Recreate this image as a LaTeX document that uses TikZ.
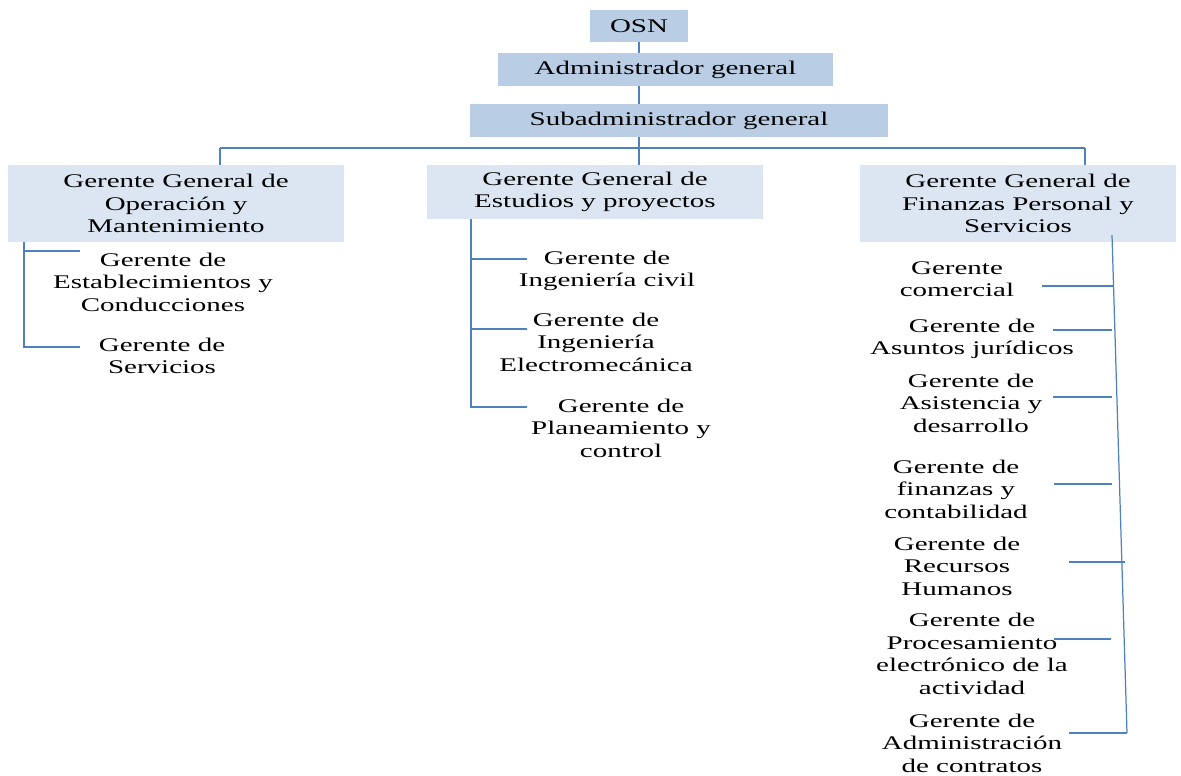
\documentclass[tikz,border=0pt]{standalone}
\usepackage{fontspec}
\setmainfont[FakeStretch=1.5]{Liberation Serif}
\usetikzlibrary{positioning}
\definecolor{linkblue}{HTML}{4F81BD}
\definecolor{topfill}{HTML}{B9CDE5}
\definecolor{genfill}{HTML}{DCE6F2}
\tikzset{%
  topbox/.style={
    fill=topfill,
    inner sep=0pt,
    align=center
  },
  genbox/.style={
    fill=genfill,
    inner sep=0pt,
    minimum width=6.72cm,
    align=center
  },
  manager/.style={inner sep=0pt, align=center},
  link/.style={draw=linkblue, line width=0.7pt},
}

\begin{document}
\begin{tikzpicture}[x=0.02cm, y=-0.02cm, font=\fontsize{11}{12.8}\selectfont]

\useasboundingbox (0,0) rectangle (1181,775);

% top of the chart
\node [topbox, minimum width=1.96cm, minimum height=0.64cm] (osn) at (639,26) {OSN};
\node [topbox, minimum width=6.7cm, minimum height=0.66cm] (admin) at (665.5,69.5) {Administrador general};
\node [topbox, minimum width=8.36cm, minimum height=0.66cm] (subadmin) at (679,120.5) {Subadministrador general};

% general managers
\node [genbox, minimum height=1.54cm] (gg1) at (176,203.5)
  {Gerente General de\\Operación y\\Mantenimiento};
\node [genbox, minimum height=1.08cm] (gg2) at (595,192)
  {Gerente General de\\Estudios y proyectos};
\node [genbox, minimum width=6.32cm, minimum height=1.54cm] (gg3) at (1018,203.5)
  {Gerente General de\\Finanzas Personal y\\Servicios};

%%%%%%%%%%%%%%%%%%%%%%%%%%%%%%%%%%%%%%%%%%%%%%%%%%%%%%%%%%%%%%%%%%%%%%%%%%%%%
% managers

\foreach \n/\x/\y/\t in {1/163/282/{Gerente de\\Establecimientos y\\Conducciones},
                         2/162/356/{Gerente de\\Servicios}}
  \node [manager] (op-\n) at (\x,\y) {\t};

\foreach \n/\x/\y/\t in {1/607/271/{Gerente de\\Ingeniería civil},
                         2/596/342/{Gerente de\\Ingeniería\\Electromecánica},
                         3/621/428/{Gerente de\\Planeamiento y\\control}}
  \node [manager] (est-\n) at (\x,\y) {\t};

\foreach \n/\x/\y/\t in {1/957/279/{Gerente\\comercial},
                         2/972/339/{Gerente de\\Asuntos jurídicos},
                         3/971/403/{Gerente de\\Asistencia y\\desarrollo},
                         4/956/489/{Gerente de\\finanzas y\\contabilidad},
                         5/957/566/{Gerente de\\Recursos\\Humanos},
                         6/972/654/{Gerente de\\Procesamiento\\electrónico de la\\actividad},
                         7/972/743/{Gerente de\\Administración\\de contratos}}
  \node [manager] (fin-\n) at (\x,\y) {\t};

%%%%%%%%%%%%%%%%%%%%%%%%%%%%%%%%%%%%%%%%%%%%%%%%%%%%%%%%%%%%%%%%%%%%%%%%%%%%%
% connections

\coordinate (bus-l) at (220,148);
\coordinate (bus-r) at (1085,148);

\draw [link] (osn.south) -- (osn.south |- admin.north);
\draw [link] (osn.south |- admin.south) -- (osn.south |- subadmin.north);
\draw [link] (osn.south |- subadmin.south) -- (osn.south |- gg2.north);
\draw [link] (bus-l) -- (bus-r);
\draw [link] (bus-l) -- (bus-l |- gg1.north);
\draw [link] (bus-r) -- (bus-r |- gg3.north);

% operation
\coordinate (opbus) at (24,242);
\coordinate (op-1-end) at (80,251);
\coordinate (op-2-end) at (80,347);
\draw [link] (op-1-end -| opbus) -- (op-1-end);
\draw [link] (opbus) |- (op-2-end);

% studies
\coordinate (estbus) at (471,219);
\foreach \n/\y in {1/259, 2/329, 3/407}
  \coordinate (est-\n-end) at (527,\y);
\draw [link] (estbus) |- (est-3-end);
\foreach \n in {1,2}
  \draw [link] (est-\n-end -| estbus) -- (est-\n-end);

% finance
\coordinate (finbus-top) at (1112,235);
\coordinate (finbus-bot) at (1127,733);
\draw [link] (finbus-top) -- (finbus-bot);
\foreach \n/\y/\a/\b in {1/286/1042/1113, 2/330/1053/1112, 3/397/1053/1112,
                         4/484/1054/1112, 5/562/1069/1125, 6/639/1054/1111,
                         7/733/1069/1127}
{
  \coordinate (fin-\n-start) at (\a,\y);
  \coordinate (fin-\n-end) at (\b,\y);
  \draw [link] (fin-\n-start) -- (fin-\n-end);
}

\end{tikzpicture}
\end{document}
